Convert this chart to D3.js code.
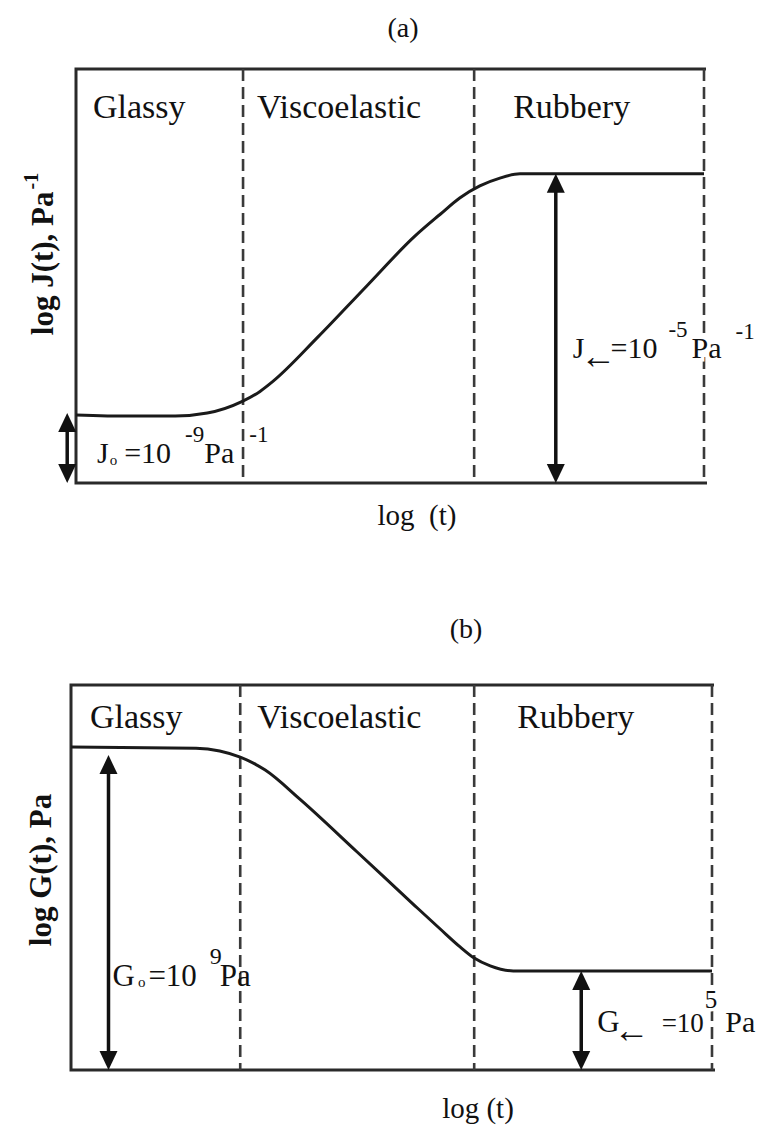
<!DOCTYPE html>
<html>
<head>
<meta charset="utf-8">
<script src="https://cdnjs.cloudflare.com/ajax/libs/d3/7.8.5/d3.min.js"></script>
<style>
body { margin: 0; background: #fff; }
svg text { font-family: "Liberation Serif", "DejaVu Serif", "Times New Roman", serif; fill: #111; }
</style>
</head>
<body>
<div id="chart"></div>
<script>
// regions along log(t), arbitrary units 0..10
var regions = ["Glassy", "Viscoelastic", "Rubbery"];
var boundsA = [2.66, 6.34, 10];
var boundsB = [2.64, 6.29, 10];

// (a) creep compliance, log J(t) [Pa^-1]
var logtA = [0, 0.86, 1.58, 2.09, 2.64, 2.93, 3.14, 3.85, 4.63, 5.40, 5.80, 6.11, 6.43, 6.75, 7.07, 10];
var logJ  = [-9, -9.02, -9.02, -8.97, -8.78, -8.61, -8.44, -7.71, -6.86, -6.03, -5.67, -5.40, -5.20, -5.07, -5.00, -5];

// (b) relaxation modulus, log G(t) [Pa]
var logtB = [0, 1.95, 2.32, 2.64, 3.03, 3.57, 4.46, 5.37, 5.76, 6.07, 6.29, 6.54, 6.90, 10];
var logG  = [9, 8.98, 8.93, 8.82, 8.59, 8.07, 7.13, 6.16, 5.75, 5.43, 5.23, 5.09, 5.00, 5];

var J0 = -9, Jinf = -5, G0 = 9, Ginf = 5;

var width = 765, height = 1127;
var svg = d3.select("#chart").append("svg")
    .attr("width", width)
    .attr("height", height)
    .attr("font-family", "Liberation Serif, DejaVu Serif, serif");

var xA = d3.scaleLinear().domain([0, 10]).range([76, 704]);
var yA = d3.scaleLinear().domain([-10.13, -3.26]).range([483, 69]);
var xB = d3.scaleLinear().domain([0, 10]).range([71, 712]);
var yB = d3.scaleLinear().domain([3.23, 10.11]).range([1070, 685]);

function drawPanel(x, y, bounds, xs, ys) {
    var g = svg.append("g");
    var x0 = x.range()[0], x1 = x.range()[1];
    var yTop = y.range()[1], yBot = y.range()[0];

    // frame: solid top, left, bottom (right edge is the last dashed line)
    g.append("path")
        .attr("d", "M" + (x1 + 2) + "," + yTop + "H" + x0 + "V" + yBot + "H" + (x1 + 3))
        .attr("fill", "none")
        .attr("stroke", "#2a2a2a")
        .attr("stroke-width", 3);

    g.selectAll("line.bound")
        .data(bounds)
        .enter()
        .append("line")
        .attr("class", "bound")
        .attr("x1", function(d) { return x(d); })
        .attr("x2", function(d) { return x(d); })
        .attr("y1", yTop)
        .attr("y2", yBot)
        .attr("stroke", "#3a3a3a")
        .attr("stroke-width", 2.6)
        .attr("stroke-dasharray", "12,6");

    var line = d3.line()
        .x(function(d) { return x(d[0]); })
        .y(function(d) { return y(d[1]); })
        .curve(d3.curveMonotoneX);

    g.append("path")
        .datum(d3.zip(xs, ys))
        .attr("d", line)
        .attr("fill", "none")
        .attr("stroke", "#1a1a1a")
        .attr("stroke-width", 3);
    return g;
}

function drawArrow(g, xp, ya, yb) {
    // ya top tip, yb bottom tip
    var hw = 9, hh = 19;
    g.append("line")
        .attr("x1", xp).attr("x2", xp)
        .attr("y1", ya + hh - 2).attr("y2", yb - hh + 2)
        .attr("stroke", "#111")
        .attr("stroke-width", 3.5);
    g.append("path")
        .attr("d", "M" + xp + "," + ya + "L" + (xp - hw) + "," + (ya + hh) + "L" + (xp + hw) + "," + (ya + hh) + "Z")
        .attr("fill", "#111");
    g.append("path")
        .attr("d", "M" + xp + "," + yb + "L" + (xp - hw) + "," + (yb - hh) + "L" + (xp + hw) + "," + (yb - hh) + "Z")
        .attr("fill", "#111");
}

// rich label: parts = [text, size, dx, dy]
function richText(g, xp, yp, parts, halo) {
    var t = g.append("text")
        .attr("x", xp)
        .attr("y", yp);
    parts.forEach(function(p) {
        t.append("tspan")
            .text(p[0])
            .attr("font-size", p[1])
            .attr("dx", p[2])
            .attr("dy", p[3]);
    });
    if (halo) {
        t.attr("stroke", "#fff")
            .attr("stroke-width", 7)
            .attr("paint-order", "stroke");
    }
    return t;
}

function regionLabels(g, x, bounds, yp, offsets) {
    var starts = [0].concat(bounds.slice(0, 2));
    g.selectAll("text.region")
        .data(regions)
        .enter()
        .append("text")
        .attr("class", "region")
        .attr("x", function(d, i) { return x(starts[i]) + offsets[i]; })
        .attr("y", yp)
        .attr("font-size", 34)
        .text(function(d) { return d; });
}

// ---------- panel (a) ----------
var gA = drawPanel(xA, yA, boundsA, logtA, logJ);
regionLabels(gA, xA, boundsA, 118, [17, 14, 39]);

drawArrow(gA, xA(-0.14), yA(J0) - 2, yA.range()[0]);
drawArrow(gA, xA(7.64), yA(Jinf), yA.range()[0]);

richText(gA, xA(0) + 21, 463, [
    ["J", 30, 0, 0], ["o", 15, 1, 2], ["=10", 30, 7, -2],
    ["-9", 23, 14, -21], ["Pa", 30, 0, 21], ["-1", 23, 15, -21]
]);
richText(gA, xA(7.64) + 17, 358, [
    ["J", 30, 0, 0], ["\u2190", 36, -4, 10], ["=10", 30, -6, -10],
    ["-5", 23, 11, -21], ["Pa", 30, 4, 21], ["-1", 23, 14, -19]
], true);

svg.append("text")
    .attr("x", 403).attr("y", 37)
    .attr("text-anchor", "middle")
    .attr("font-size", 28)
    .text("(a)");
svg.append("text")
    .attr("x", 417).attr("y", 525)
    .attr("text-anchor", "middle")
    .attr("font-size", 29)
    .text("log\u00a0\u00a0(t)");

var ylabA = svg.append("text")
    .attr("transform", "translate(53,254) rotate(-90)")
    .attr("text-anchor", "middle")
    .attr("font-size", 31)
    .attr("font-weight", "bold");
ylabA.append("tspan").text("log J(t), Pa");
ylabA.append("tspan").text("-1").attr("font-size", 20).attr("dy", -15).attr("dx", 2);

// ---------- panel (b) ----------
var gB = drawPanel(xB, yB, boundsB, logtB, logG);
regionLabels(gB, xB, boundsB, 728, [19, 17, 43]);

drawArrow(gB, xB(0.585), yB(G0) + 8, yB.range()[0]);
drawArrow(gB, xB(7.96), yB(Ginf), yB.range()[0]);

richText(gB, xB(0.585) + 4, 986, [
    ["G", 31, 0, 0], ["o", 15, 3, 1], ["=10", 31, 3, -1],
    ["9", 24, 13, -22], ["Pa", 31, -2, 22]
]);
richText(gB, xB(7.96) + 16, 1032, [
    ["G", 31, 0, 0], ["\u2190", 36, -6, 10], ["=10", 27, 12, -10],
    ["5", 25, 1, -24], ["Pa", 30, 8, 24]
], true);

svg.append("text")
    .attr("x", 466).attr("y", 638)
    .attr("text-anchor", "middle")
    .attr("font-size", 28)
    .text("(b)");
svg.append("text")
    .attr("x", 478).attr("y", 1118)
    .attr("text-anchor", "middle")
    .attr("font-size", 29)
    .text("log (t)");

svg.append("text")
    .attr("transform", "translate(51,870) rotate(-90)")
    .attr("text-anchor", "middle")
    .attr("font-size", 31)
    .attr("font-weight", "bold")
    .text("log G(t), Pa");
</script>
</body>
</html>
